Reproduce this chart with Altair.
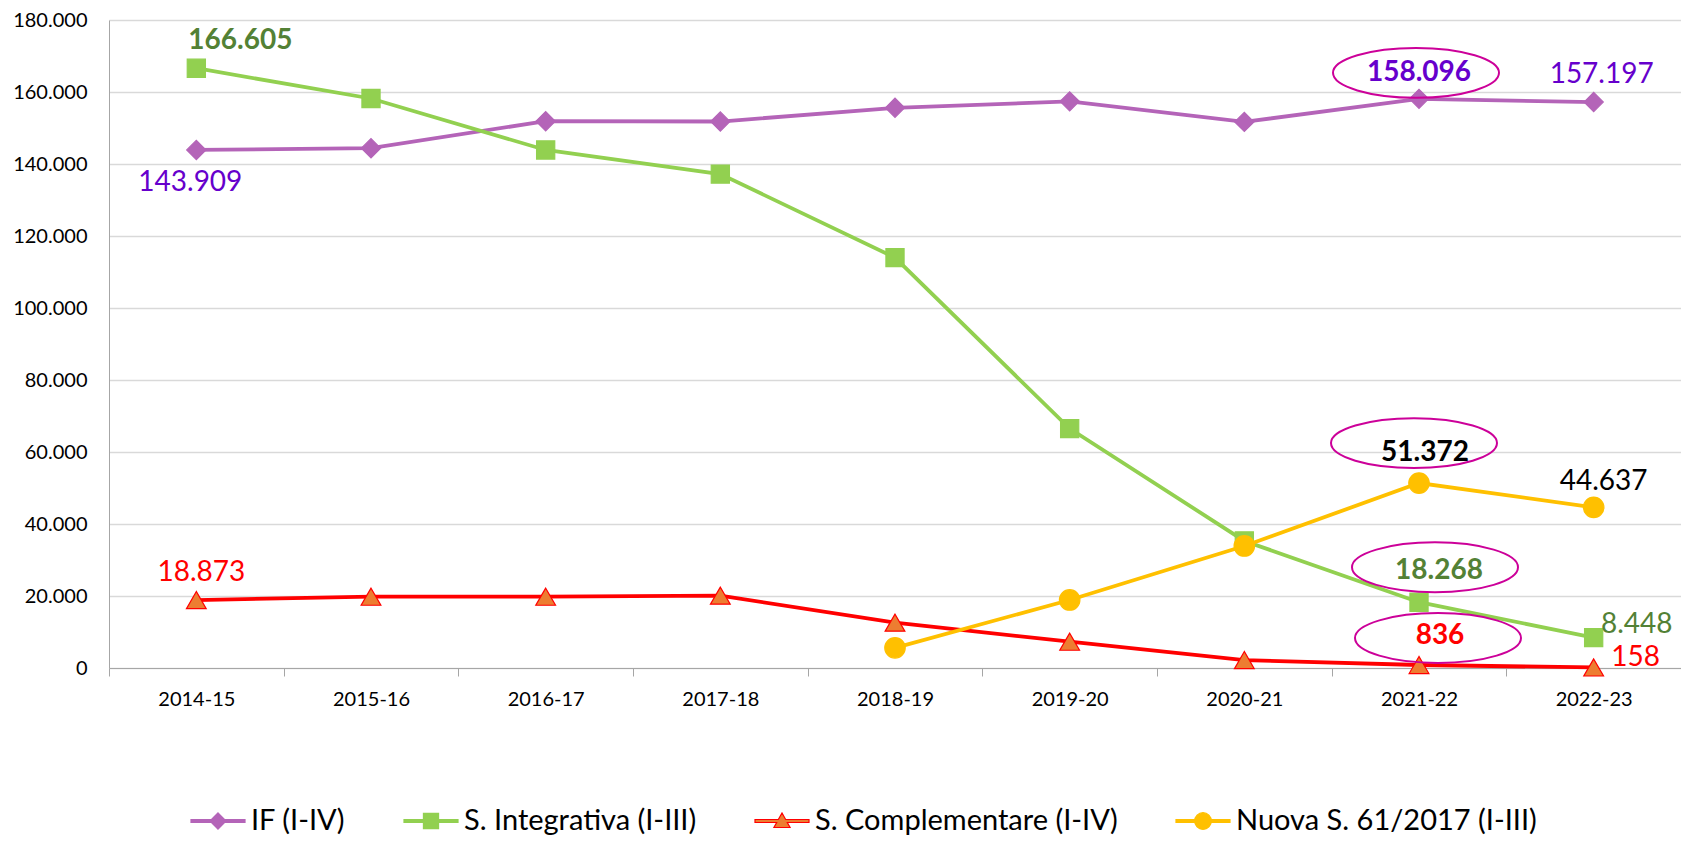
import altair as alt
import pandas as pd

categories = ["2014-15", "2015-16", "2016-17", "2017-18", "2018-19",
              "2019-20", "2020-21", "2021-22", "2022-23"]
series_names = ["IF (I-IV)", "S. Integrativa (I-III)",
                "S. Complementare (I-IV)", "Nuova S. 61/2017 (I-III)"]
if_values = [143909, 144400, 151900, 151800, 155600, 157400, 151700, 158096, 157197]
integrativa_values = [166605, 158200, 143900, 137200, 114000, 66500, 35300, 18268, 8448]
complementare_values = [18873, 19800, 19800, 20100, 12600, 7300, 2200, 836, 158]
nuova_values = [None, None, None, None, 5600, 18900, 33900, 51372, 44637]
y_tick_values = [0, 20000, 40000, 60000, 80000, 100000, 120000, 140000, 160000, 180000]


def fmt(v):
    if v is None:
        return ""
    return f"{int(v):,}".replace(",", ".")


rows = []
for s, vals in zip(series_names, [if_values, integrativa_values,
                                  complementare_values, nuova_values]):
    for c, v in zip(categories, vals):
        rows.append({"series": s, "category": c, "value": v, "label": fmt(v)})
df = pd.DataFrame(rows)

FONT = "Lato"
PURPLE = "#B464B8"
GREEN = "#92D050"
RED = "#FF0000"
ORANGE = "#ED7D31"
YELLOW = "#FFC000"
PURPLE_TXT = "#6600CC"
GREEN_TXT = "#538135"
MAGENTA = "#CC0099"

stroke_scale = alt.Scale(domain=series_names, range=[PURPLE, GREEN, RED, YELLOW])
fill_scale = alt.Scale(domain=series_names, range=[PURPLE, GREEN, ORANGE, YELLOW])

bar = "M-1,-0.055 L1,-0.055 L1,0.055 L-1,0.055 Z "
legend_shapes = [
    bar + "M0,-0.3 L0.3,0 L0,0.3 L-0.3,0 Z",
    bar + "M-0.28,-0.28 L0.28,-0.28 L0.28,0.28 L-0.28,0.28 Z",
    "M-1,-0.055 L-0.136,-0.055 L0,-0.3 L0.136,-0.055 L1,-0.055 L1,0.055 "
    "L0.197,0.055 L0.3,0.24 L-0.3,0.24 L-0.197,0.055 L-1,0.055 Z",
    bar + "M0,-0.31 C0.171,-0.31 0.31,-0.171 0.31,0 C0.31,0.171 0.171,0.31 0,0.31 "
          "C-0.171,0.31 -0.31,0.171 -0.31,0 C-0.31,-0.171 -0.171,-0.31 0,-0.31 Z",
]
shape_scale = alt.Scale(domain=series_names, range=legend_shapes)

ellipse = ("M-1,0 C-1,-0.1657 -0.5523,-0.3 0,-0.3 C0.5523,-0.3 1,-0.1657 1,0 "
           "C1,0.1657 0.5523,0.3 0,0.3 C-0.5523,0.3 -1,0.1657 -1,0 Z")

x_enc = alt.X(
    "category:N", sort=categories,
    scale=alt.Scale(type="band", domain=categories, paddingInner=0, paddingOuter=0),
    axis=alt.Axis(title=None, labelAngle=0, grid=False, tickBand="extent",
                  domainColor="#A6A6A6", tickColor="#A6A6A6", tickSize=8,
                  labelFont=FONT, labelFontSize=20, labelColor="black",
                  labelPadding=13),
)
y_enc = alt.Y(
    "value:Q",
    scale=alt.Scale(domain=[0, 180000], nice=False, zero=True),
    axis=alt.Axis(title=None, values=y_tick_values, grid=True, gridColor="#D9D9D9",
                  gridWidth=1.3, ticks=False, tickSize=0, domainColor="#A6A6A6",
                  labelFont=FONT, labelFontSize=20, labelColor="black", labelPadding=22,
                  labelExpr="datum.value == 0 ? '0' : format(datum.value / 1000, 'd') + '.000'"),
)

base = alt.Chart(df)

leg = alt.Legend(
    title=None, orient="none", legendX=81, legendY=773, direction="horizontal",
    labelFont=FONT, labelFontSize=29, labelColor="black", labelLimit=600,
    symbolSize=54 * 54, symbolStrokeWidth=1.2, symbolOpacity=1,
    labelOffset=5, columnPadding=55, padding=0,
)
# invisible layer that only carries the legend (must come first in the layer list)
legend_layer = base.mark_point(
    filled=True, opacity=0, strokeWidth=1.2
).encode(
    x=x_enc, y=y_enc,
    fill=alt.Fill("series:N", scale=fill_scale, legend=leg),
    stroke=alt.Stroke("series:N", scale=stroke_scale, legend=leg),
    shape=alt.Shape("series:N", scale=shape_scale, legend=leg),
)

lines = base.mark_line(strokeWidth=3.8).encode(
    x=x_enc, y=y_enc,
    stroke=alt.Stroke("series:N", scale=stroke_scale, legend=None),
)

marker_styles = [
    ("diamond", 370, PURPLE, PURPLE),
    ("square", 330, GREEN, GREEN),
    ("triangle-up", 390, ORANGE, RED),
    ("circle", 420, YELLOW, YELLOW),
]
markers = []
for s, (shp, sz, fc, sc) in zip(series_names, marker_styles):
    markers.append(
        base.transform_filter(alt.datum.series == s).mark_point(
            shape=shp, size=sz, filled=True, fill=fc, stroke=sc,
            strokeWidth=1.2, opacity=1,
        ).encode(x=x_enc, y=y_enc)
    )

# (series index, category, dx, dy, bold, color)
label_specs = [
    (0, "2014-15", -6, 33, False, PURPLE_TXT),
    (0, "2021-22", 0, -26, True, PURPLE_TXT),
    (0, "2022-23", 8, -27, False, PURPLE_TXT),
    (1, "2014-15", 44, -27, True, GREEN_TXT),
    (1, "2021-22", 20, -31, True, GREEN_TXT),
    (1, "2022-23", 43, -13, False, GREEN_TXT),
    (2, "2014-15", 5, -27, False, RED),
    (2, "2021-22", 21, -29, True, RED),
    (2, "2022-23", 42, -9, False, RED),
    (3, "2021-22", 6, -30, True, "black"),
    (3, "2022-23", 10, -25, False, "black"),
]
labels = []
for si, cat, dx, dy, bold, col in label_specs:
    labels.append(
        base.transform_filter(
            (alt.datum.series == series_names[si]) & (alt.datum.category == cat)
        ).mark_text(
            dx=dx, dy=dy, font=FONT, fontSize=28,
            fontWeight="bold" if bold else "normal", color=col,
            align="center", baseline="middle",
        ).encode(x=x_enc, y=y_enc, text="label:N")
    )

# (series index, category, xOffset, yOffset)
ellipse_specs = [
    (0, "2021-22", -3, -26),
    (3, "2021-22", -5, -40),
    (1, "2021-22", 16, -35),
    (2, "2021-22", 19, -27),
]
ellipses = []
for si, cat, xo, yo in ellipse_specs:
    ellipses.append(
        base.transform_filter(
            (alt.datum.series == series_names[si]) & (alt.datum.category == cat)
        ).mark_point(
            shape=ellipse, size=166 * 166, filled=False, stroke=MAGENTA,
            strokeWidth=2, opacity=1, xOffset=xo, yOffset=yo,
        ).encode(x=x_enc, y=y_enc)
    )

chart = alt.layer(legend_layer, lines, *markers, *labels, *ellipses).properties(
    width=1572, height=648,
    autosize=alt.AutoSizeParams(type="none"),
    padding={"left": 101, "top": 12, "right": 0, "bottom": 170},
    background="white",
).configure_view(stroke=None)

chart.save("out.html", embed_options={"renderer": "svg", "actions": False})
